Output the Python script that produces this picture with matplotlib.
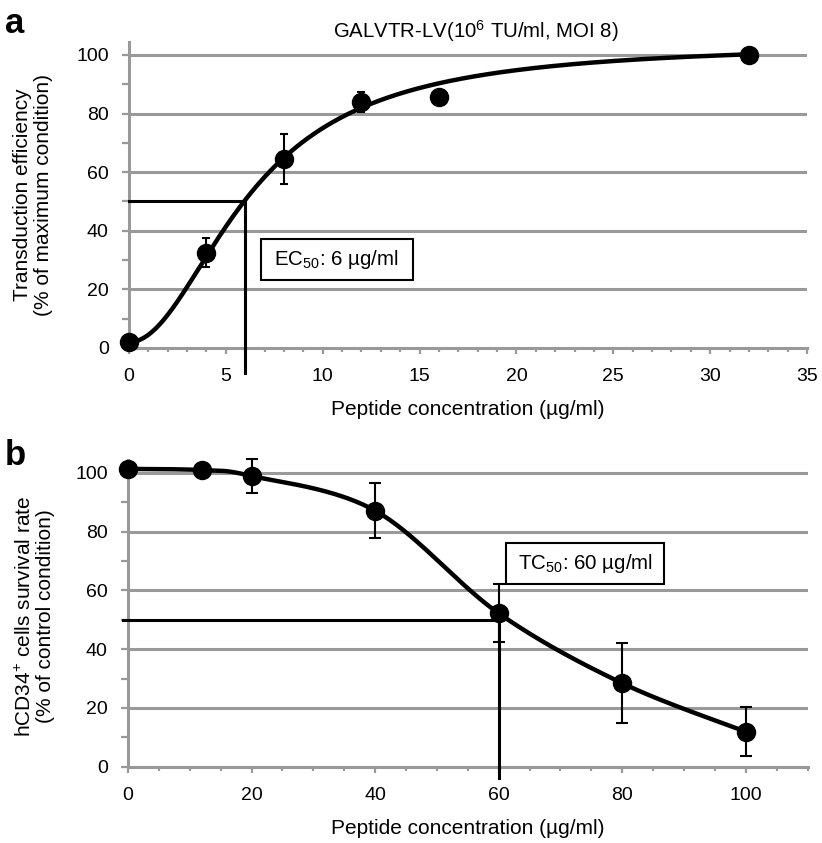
import numpy as np
import matplotlib
matplotlib.use("Agg")
import matplotlib.pyplot as plt
from matplotlib.patches import Rectangle
from matplotlib.ticker import MultipleLocator

plt.rcParams['font.family'] = ['Liberation Sans', 'DejaVu Sans']
plt.rcParams['mathtext.fontset'] = 'custom'
plt.rcParams['mathtext.rm'] = 'Liberation Sans'
plt.rcParams['mathtext.it'] = 'Liberation Sans:italic'
plt.rcParams['mathtext.bf'] = 'Liberation Sans:bold'

# ---------------- data ----------------
# Panel a: transduction efficiency
conc_a = [0, 4, 8, 12, 16, 32]
eff_a = [2, 32.5, 64.5, 84, 85.5, 100]
err_a = [2, 5, 8.5, 3.5, 0, 0]
# fitted dose-response curve parameters (panel a)
fit_bottom, fit_top, fit_mid, fit_hill = 2.0, 104.0, 6.3, 2.0
ec50 = 6

# Panel b: hCD34+ survival
conc_b = [0, 12, 20, 40, 60, 80, 100]
surv_b = [101.3, 100.9, 98.9, 87.1, 52.2, 28.4, 11.9]
err_b = [0, 0, 5.8, 9.3, 9.8, 13.7, 8.3]
tc50 = 60

GRAY = '#999999'
TICK_FS = 14
LABEL_FS = 15
NOTE_FS = 14.8

W, H = 822, 843
fig = plt.figure(figsize=(W / 100, H / 100), dpi=100)


def px_axes(l, r, b_px, t_px):
    return fig.add_axes([l / W, 1 - b_px / H, (r - l) / W, (b_px - t_px) / H])


def style(ax, xmax, xmaj, xmin):
    ax.set_xlim(0, xmax)
    ax.set_ylim(0, 104.4)
    for s in ['top', 'right']:
        ax.spines[s].set_visible(False)
    for s in ['left', 'bottom']:
        ax.spines[s].set_color(GRAY)
        ax.spines[s].set_linewidth(2.2)
    ax.xaxis.set_major_locator(MultipleLocator(xmaj))
    ax.xaxis.set_minor_locator(MultipleLocator(xmin))
    ax.yaxis.set_major_locator(MultipleLocator(20))
    ax.yaxis.set_minor_locator(MultipleLocator(10))
    ax.tick_params(axis='x', which='major', direction='out', length=4.5, width=1.6,
                   color=GRAY, pad=10, labelsize=TICK_FS)
    ax.tick_params(axis='x', which='minor', direction='out', length=3, width=1.6, color=GRAY)
    ax.tick_params(axis='y', which='major', direction='out', length=5, width=1.6,
                   color=GRAY, pad=9.5, labelsize=TICK_FS)
    ax.tick_params(axis='y', which='minor', direction='out', length=5, width=1.6, color=GRAY)
    ax.yaxis.grid(True, which='major', color=GRAY, linewidth=2.2)
    ax.set_axisbelow(True)


def excel_smooth(x, y, n=60):
    pts = np.column_stack([x, y]).astype(float)
    out = []
    for i in range(len(pts) - 1):
        p0 = pts[max(i - 1, 0)]
        p1 = pts[i]
        p2 = pts[i + 1]
        p3 = pts[min(i + 2, len(pts) - 1)]
        c1 = p1 + (p2 - p0) / 6
        c2 = p2 - (p3 - p1) / 6
        t = np.linspace(0, 1, n)[:, None]
        seg = (1 - t) ** 3 * p1 + 3 * (1 - t) ** 2 * t * c1 + 3 * (1 - t) * t ** 2 * c2 + t ** 3 * p2
        out.append(seg)
    s = np.vstack(out)
    return s[:, 0], s[:, 1]


# ---------------- panel a ----------------
axa = px_axes(129, 807, 348, 42)
style(axa, 35, 5, 1)
xs = np.linspace(0, max(conc_a), 400)
ys = fit_bottom + (fit_top - fit_bottom) * xs ** fit_hill / (fit_mid ** fit_hill + xs ** fit_hill)
axa.plot(xs, ys, color='black', lw=3.2, zorder=3, solid_capstyle='round')
axa.errorbar(conc_a, eff_a, yerr=err_a, fmt='o', color='black', ms=13, elinewidth=1.5,
             capsize=3, capthick=1.5, zorder=4, clip_on=False)
axa.plot([0, ec50], [50, 50], color='black', lw=2.2, zorder=3, clip_on=False)
axa.plot([ec50, ec50], [50, -8.5], color='black', lw=2.2, zorder=3, clip_on=False)
axa.add_patch(Rectangle((6.8, 23.2), 7.86, 14.0, facecolor='white', edgecolor='black',
                        lw=1.5, zorder=5))
axa.text(10.73, 30.2, 'EC$_{50}$: 6 µg/ml', ha='center', va='center', fontsize=NOTE_FS, zorder=6)
fig.text(475.5 / W, 1 - 38 / H, 'GALVTR-LV(10$^6$ TU/ml, MOI 8)', fontsize=14.7,
         ha='center', va='baseline')
axa.set_xlabel('Peptide concentration (µg/ml)', fontsize=LABEL_FS, labelpad=11)
fig.text(33 / W, 1 - 195 / H, 'Transduction efficiency\n(% of maximum condition)',
         rotation=90, ha='center', va='center', fontsize=LABEL_FS, linespacing=1.1)
fig.text(5 / W, 1 - 33 / H, 'a', fontsize=25, fontweight='bold', ha='left', va='baseline')

# ---------------- panel b ----------------
axb = px_axes(128, 807.5, 766.7, 459.8)
style(axb, 110, 20, 5)
axb.set_xticks([0, 20, 40, 60, 80, 100])
cx, cy = excel_smooth(conc_b, surv_b)
axb.plot(cx, cy, color='black', lw=3.2, zorder=3, solid_capstyle='round')
axb.errorbar(conc_b, surv_b, yerr=err_b, fmt='o', color='black', ms=13, elinewidth=1.5,
             capsize=4.5, capthick=1.5, zorder=4, clip_on=False)
axb.plot([-0.8, tc50], [50, 50], color='black', lw=2.2, zorder=3, clip_on=False)
axb.plot([tc50, tc50], [50, -3.9], color='black', lw=2.2, zorder=3, clip_on=False)
axb.add_patch(Rectangle((61.2, 62.1), 25.6, 14.1, facecolor='white', edgecolor='black',
                        lw=1.5, zorder=5))
axb.text(74.0, 69.15, 'TC$_{50}$: 60 µg/ml', ha='center', va='center', fontsize=NOTE_FS, zorder=6)
axb.set_xlabel('Peptide concentration (µg/ml)', fontsize=LABEL_FS, labelpad=11)
fig.text(35 / W, 1 - 616 / H, 'hCD34$^{+}$ cells survival rate\n(% of control condition)',
         rotation=90, ha='center', va='center', fontsize=LABEL_FS, linespacing=1.1)
fig.text(5 / W, 1 - 465 / H, 'b', fontsize=25, fontweight='bold', ha='left', va='baseline')

fig.savefig('out.png', dpi=100, facecolor='white')
